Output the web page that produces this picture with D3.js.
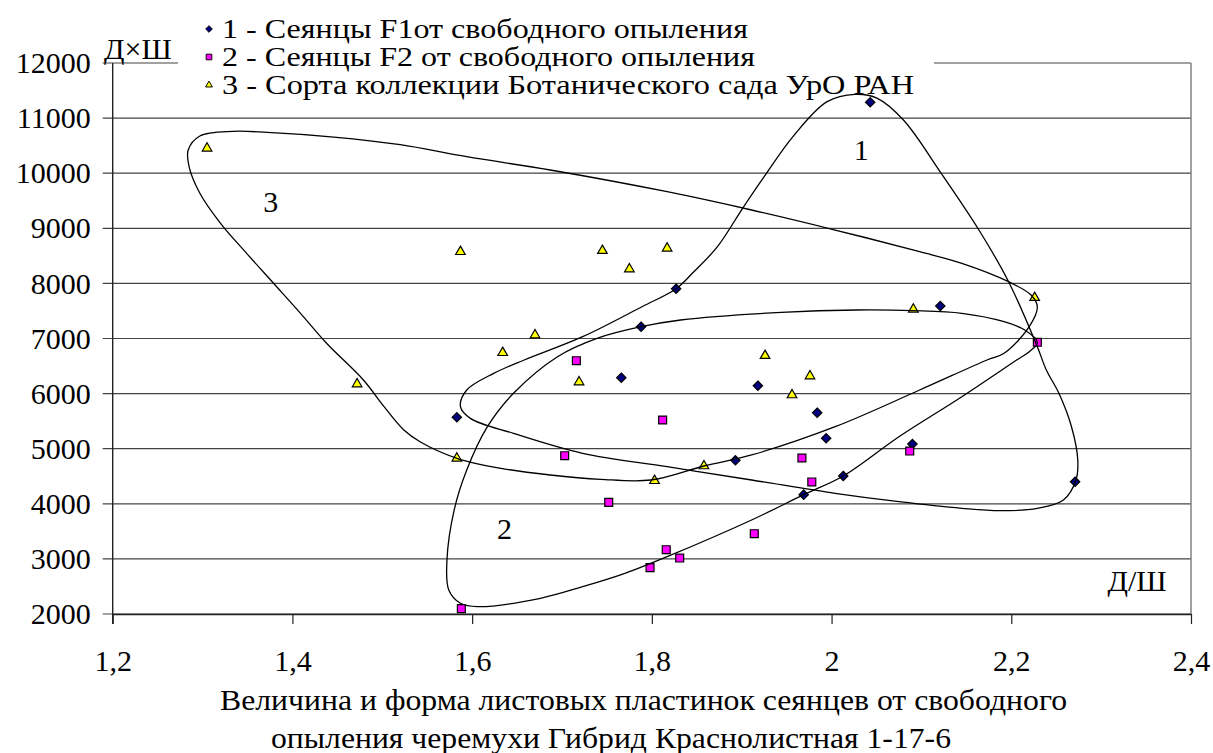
<!DOCTYPE html>
<html>
<head>
<meta charset="utf-8">
<script src="https://cdn.jsdelivr.net/npm/d3@7"></script>
<style>
  body { margin: 0; background: #fff; }
  svg { display: block; }
</style>
</head>
<body>
<div id="chart"></div>
<script>
// axis ticks
const xTicks = [1.2, 1.4, 1.6, 1.8, 2.0, 2.2, 2.4];
const xTickLabels = ["1,2", "1,4", "1,6", "1,8", "2", "2,2", "2,4"];
const yTicks = [2000, 3000, 4000, 5000, 6000, 7000, 8000, 9000, 10000, 11000, 12000];

const legendLabels = [
    "1 - Сеянцы F1от свободного опыления",
    "2 - Сеянцы F2 от свободного опыления",
    "3 - Сорта коллекции Ботанического сада УрО РАН"
];
const titleLines = [
    "Величина и форма листовых пластинок сеянцев от свободного",
    "опыления черемухи Гибрид Краснолистная 1-17-6"
];

// [Д/Ш, Д×Ш]
const seedlingsF1 = [
    [1.583, 5570], [2.043, 11287], [1.827, 7904], [1.788, 7214], [2.121, 7590],
    [1.766, 6289], [1.918, 6143], [1.984, 5654], [1.994, 5189], [2.090, 5085],
    [1.893, 4789], [2.013, 4505], [1.969, 4166], [2.271, 4401]
];
const seedlingsF2 = [
    [1.588, 2097], [2.229, 6931], [1.716, 6597], [1.812, 5521], [1.703, 4873],
    [1.967, 4831], [2.087, 4958], [1.978, 4396], [1.752, 4027], [1.914, 3457],
    [1.816, 3167], [1.831, 3016], [1.798, 2841]
];
const collection = [
    [1.305, 10452], [1.587, 8575], [1.670, 7063], [1.634, 6742], [1.472, 6174],
    [1.583, 4826], [1.745, 8594], [1.817, 8637], [1.775, 8261], [2.226, 7741],
    [2.091, 7530], [1.926, 6688], [1.976, 6319], [1.719, 6210], [1.956, 5975],
    [1.858, 4686], [1.803, 4419]
];

// hand-drawn outlines around the groups
const outline1 = [
    [2.026, 11432], [2.051, 11359], [2.080, 10965], [2.122, 9998], [2.164, 8969],
    [2.197, 8031], [2.229, 6851], [2.239, 6428], [2.253, 6005], [2.267, 5399],
    [2.274, 4795], [2.272, 4432], [2.258, 4069], [2.229, 3918], [2.187, 3875],
    [2.145, 3918], [2.075, 4038], [2.004, 4190], [1.911, 4432], [1.817, 4673],
    [1.723, 4916], [1.646, 5279], [1.598, 5551], [1.587, 5762], [1.594, 6065],
    [1.624, 6368], [1.658, 6610], [1.723, 7033], [1.789, 7577], [1.827, 7904],
    [1.845, 8183], [1.873, 8666], [1.901, 9363], [1.925, 9937], [1.957, 10663],
    [1.995, 11298]
];
const outline2 = [
    [1.606, 2133], [1.587, 2194], [1.574, 2436], [1.572, 2980], [1.580, 3887],
    [1.594, 4613], [1.617, 5399], [1.646, 6005], [1.695, 6670], [1.739, 7003],
    [1.788, 7214], [1.832, 7336], [1.944, 7475], [2.028, 7517], [2.091, 7505],
    [2.145, 7457], [2.192, 7305], [2.215, 7154], [2.229, 6930], [2.220, 6760],
    [2.206, 6610], [2.145, 5944], [2.075, 5218], [2.013, 4505], [1.969, 4166],
    [1.911, 3706], [1.817, 3040], [1.770, 2738], [1.723, 2496], [1.676, 2285]
];
const outline3 = [
    [1.334, 10759], [1.372, 10741], [1.446, 10656], [1.520, 10517], [1.594, 10299],
    [1.687, 10058], [1.817, 9664], [1.911, 9332], [2.004, 8969], [2.098, 8576],
    [2.145, 8365], [2.197, 8031], [2.222, 7789], [2.229, 7577], [2.220, 7214],
    [2.192, 6731], [2.173, 6610], [2.098, 6065], [2.004, 5399], [1.911, 4886],
    [1.858, 4686], [1.799, 4432], [1.743, 4445], [1.687, 4523], [1.632, 4644],
    [1.583, 4826], [1.542, 5127], [1.524, 5339], [1.502, 5762], [1.479, 6247],
    [1.438, 6913], [1.409, 7457], [1.379, 8002], [1.349, 8546], [1.320, 9090],
    [1.297, 9635], [1.285, 10118], [1.284, 10421], [1.297, 10675]
];
const outlineLabels = [
    { text: "1", at: [2.033, 10439] },
    { text: "2", at: [1.636, 3543] },
    { text: "3", at: [1.376, 9495] }
];

const width = 1213;
const height = 753;
const serif = "'Liberation Serif', 'Times New Roman', 'DejaVu Serif', serif";

const svg = d3.select("#chart").append("svg")
    .attr("width", width)
    .attr("height", height)
    .attr("font-family", serif);

const x = d3.scaleLinear().domain([1.2, 2.4]).range([112.7, 1191]);
const y = d3.scaleLinear().domain([2000, 12000]).range([614, 63]);

// every text in the chart: Times-like serif
function label(sel, size) {
    return sel.style("font-family", serif).style("font-size", size + "px").attr("fill", "#000");
}

// grid lines (with the small outward tick on the left)
svg.append("g")
    .selectAll("line")
    .data(yTicks)
    .join("line")
    .attr("x1", x(1.2) - 10)
    .attr("x2", x(2.4))
    .attr("y1", d => y(d))
    .attr("y2", d => y(d))
    .attr("stroke", "#444")
    .attr("stroke-width", 1.2);

// right border of plot area
svg.append("line")
    .attr("x1", x(2.4)).attr("x2", x(2.4))
    .attr("y1", y(12000)).attr("y2", y(2000))
    .attr("stroke", "#808080")
    .attr("stroke-width", 1.5);

// y axis
const yAxis = svg.append("g")
    .attr("transform", `translate(${x(1.2)},0)`)
    .call(d3.axisLeft(y).tickValues(yTicks).tickSize(0).tickPadding(22).tickFormat(d => d));
yAxis.attr("font-family", null).attr("font-size", null);
yAxis.select(".domain").remove();
label(yAxis.selectAll("text"), 30);
svg.append("line")
    .attr("x1", x(1.2)).attr("x2", x(1.2))
    .attr("y1", y(12000)).attr("y2", y(2000) + 10)
    .attr("stroke", "#222").attr("stroke-width", 1.4);

// x axis
const xAxis = svg.append("g")
    .attr("transform", `translate(0,${y(2000)})`)
    .call(d3.axisBottom(x).tickValues(xTicks).tickSize(10).tickSizeOuter(0)
        .tickFormat((d, i) => xTickLabels[i]));
xAxis.attr("font-family", null).attr("font-size", null);
xAxis.select(".domain").attr("stroke", "#222").attr("stroke-width", 1.4);
xAxis.selectAll(".tick line").attr("stroke", "#222").attr("stroke-width", 1.2);
label(xAxis.selectAll("text"), 30).attr("y", 57).attr("dy", 0);

// axis captions
label(svg.append("text"), 30)
    .attr("x", 104).attr("y", 59)
    .text("Д×Ш");
label(svg.append("text"), 30)
    .attr("x", 1137).attr("y", 591)
    .attr("text-anchor", "middle")
    .text("Д/Ш");

// title under the chart (stretched like the original)
const titleBox = [[220, 1067], [271, 951]];
label(svg.append("g")
    .selectAll("text")
    .data(titleLines)
    .join("text"), 30)
    .attr("x", (d, i) => titleBox[i][0])
    .attr("y", (d, i) => 710 + i * 38)
    .attr("textLength", (d, i) => titleBox[i][1] - titleBox[i][0])
    .attr("lengthAdjust", "spacingAndGlyphs")
    .text(d => d);

// legend (white box hides the top border behind it)
const legend = svg.append("g");
legend.append("rect")
    .attr("x", 178).attr("y", 0)
    .attr("width", 756).attr("height", 100)
    .attr("fill", "#fff");

const diamond = d3.symbol().type(d3.symbolDiamond2);
const square = d3.symbol().type(d3.symbolSquare2);
const triangle = d3.symbol().type(d3.symbolTriangle2);
const markers = [
    { shape: diamond, fill: "#000080", size: 56 },
    { shape: square, fill: "#ff00ff", size: 80 },
    { shape: triangle, fill: "#ffff00", size: 66 }
];

const legendRight = [748, 755, 914];
legendLabels.forEach((text, i) => {
    const cy = 29 + i * 28;
    legend.append("path")
        .attr("d", markers[i].shape.size(markers[i].size * 0.5)())
        .attr("transform", `translate(209,${cy})`)
        .attr("fill", markers[i].fill)
        .attr("stroke", "#000")
        .attr("stroke-width", 1);
    label(legend.append("text"), 27)
        .attr("x", 222).attr("y", cy + 9)
        .attr("textLength", legendRight[i] - 222)
        .attr("lengthAdjust", "spacingAndGlyphs")
        .text(text);
});

// points
const series = [seedlingsF1, seedlingsF2, collection];
series.forEach((pts, i) => {
    svg.append("g")
        .selectAll("path")
        .data(pts)
        .join("path")
        .attr("d", markers[i].shape.size(markers[i].size)())
        .attr("transform", d => `translate(${x(d[0])},${y(d[1])})`)
        .attr("fill", markers[i].fill)
        .attr("stroke", "#000")
        .attr("stroke-width", 1.2);
});

// outlines
const outline = d3.line()
    .x(d => x(d[0]))
    .y(d => y(d[1]))
    .curve(d3.curveCatmullRomClosed.alpha(0.5));

svg.append("g")
    .selectAll("path")
    .data([outline1, outline2, outline3])
    .join("path")
    .attr("d", outline)
    .attr("fill", "none")
    .attr("stroke", "#000")
    .attr("stroke-width", 1.3);

label(svg.append("g")
    .selectAll("text")
    .data(outlineLabels)
    .join("text"), 30)
    .attr("x", d => x(d.at[0]))
    .attr("y", d => y(d.at[1]))
    .attr("dy", "0.35em")
    .attr("text-anchor", "middle")
    .text(d => d.text);
</script>
</body>
</html>
